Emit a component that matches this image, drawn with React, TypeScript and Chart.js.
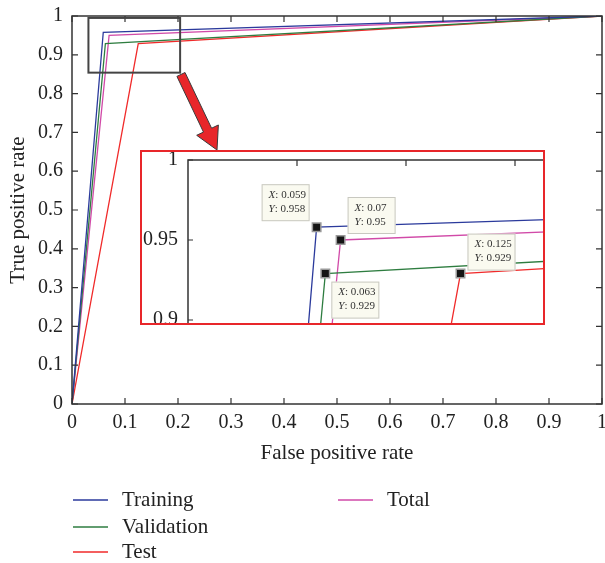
import React, { useEffect, useRef } from "react";
import { Chart, registerables } from "chart.js";

Chart.register(...registerables);

// ---------- data ----------
const seriesNames = ["Training", "Validation", "Test", "Total"];
const seriesColors = ["#2b3a9c", "#2e7d40", "#f02a2a", "#d14aa8"];
const fprTraining = [0, 0.059, 1];
const tprTraining = [0, 0.958, 1];
const fprValidation = [0, 0.063, 1];
const tprValidation = [0, 0.929, 1];
const fprTest = [0, 0.125, 1];
const tprTest = [0, 0.929, 1];
const fprTotal = [0, 0.07, 1];
const tprTotal = [0, 0.95, 1];
const mainTicks = [0, 0.1, 0.2, 0.3, 0.4, 0.5, 0.6, 0.7, 0.8, 0.9, 1];
const insetXTicks = [0.05, 0.1, 0.15];
const insetYTicks = [0.9, 0.95, 1];
const zoomBoxX = [0.031, 0.204];
const zoomBoxY = [0.854, 0.995];

const fprs = [fprTraining, fprValidation, fprTest, fprTotal];
const tprs = [tprTraining, tprValidation, tprTest, tprTotal];

// ---------- styles / layout ----------
const FONT = "'Liberation Serif', 'Times New Roman', serif";
const TEXT = "#222";
const AXIS = "#333";
const legendColX = [73, 338];
const legendRowY = [500, 527, 552];
const insetBox = { left: 140, top: 150, width: 405, height: 175 };
const arrowTip = { x: 217, y: 150 };
const labelOffsets = [
  [-55, -43],
  [6, 8],
  [7, -40],
  [7, -43],
];

const fmt = (v: any) => String(+Number(v).toFixed(3));

function buildDatasets(inset: boolean) {
  return seriesNames.map((name, i) => ({
    label: name,
    data: fprs[i].map((x, k) => ({ x, y: tprs[i][k] })),
    showLine: true,
    borderColor: seriesColors[i],
    backgroundColor: seriesColors[i],
    borderWidth: 1.3,
    pointRadius: inset ? fprs[i].map((_, k) => (k === 1 ? 6 : 0)) : 0,
    pointStyle: "rect",
    pointBackgroundColor: "#151515",
    pointBorderColor: "#9a9a9a",
    pointBorderWidth: 1.5,
    tension: 0,
  }));
}

const mainPlugin = {
  id: "mainDecor",
  afterDatasetsDraw(chart: any) {
    const { ctx, chartArea: a, scales } = chart;
    const xs = scales.x;
    const ys = scales.y;
    ctx.save();
    // frame
    ctx.strokeStyle = AXIS;
    ctx.lineWidth = 1.5;
    ctx.strokeRect(a.left, a.top, a.right - a.left, a.bottom - a.top);
    // ticks inward on all four sides
    ctx.lineWidth = 1.2;
    ctx.beginPath();
    mainTicks.forEach((v) => {
      const px = xs.getPixelForValue(v);
      ctx.moveTo(px, a.bottom);
      ctx.lineTo(px, a.bottom - 6);
      ctx.moveTo(px, a.top);
      ctx.lineTo(px, a.top + 6);
      const py = ys.getPixelForValue(v);
      ctx.moveTo(a.left, py);
      ctx.lineTo(a.left + 6, py);
      ctx.moveTo(a.right, py);
      ctx.lineTo(a.right - 6, py);
    });
    ctx.stroke();
    // zoom rectangle
    const rx0 = xs.getPixelForValue(zoomBoxX[0]);
    const rx1 = xs.getPixelForValue(zoomBoxX[1]);
    const ry0 = ys.getPixelForValue(zoomBoxY[1]);
    const ry1 = ys.getPixelForValue(zoomBoxY[0]);
    ctx.strokeStyle = "#444";
    ctx.lineWidth = 2;
    ctx.strokeRect(rx0, ry0, rx1 - rx0, ry1 - ry0);
    // arrow
    const S = { x: rx1, y: ry1 };
    const T = arrowTip;
    const dx = T.x - S.x;
    const dy = T.y - S.y;
    const len = Math.hypot(dx, dy);
    const u = { x: dx / len, y: dy / len };
    const n = { x: -u.y, y: u.x };
    const w = 4.5;
    const h = 12;
    const hl = 22;
    const B = { x: T.x - u.x * hl, y: T.y - u.y * hl };
    const S0 = { x: S.x + u.x * 2, y: S.y + u.y * 2 };
    ctx.beginPath();
    ctx.moveTo(S0.x + n.x * w, S0.y + n.y * w);
    ctx.lineTo(B.x + n.x * w, B.y + n.y * w);
    ctx.lineTo(B.x + n.x * h, B.y + n.y * h);
    ctx.lineTo(T.x, T.y);
    ctx.lineTo(B.x - n.x * h, B.y - n.y * h);
    ctx.lineTo(B.x - n.x * w, B.y - n.y * w);
    ctx.lineTo(S0.x - n.x * w, S0.y - n.y * w);
    ctx.closePath();
    ctx.fillStyle = "#e8262a";
    ctx.fill();
    ctx.strokeStyle = "#3a3a3a";
    ctx.lineWidth = 1;
    ctx.stroke();
    ctx.restore();
  },
  afterDraw(chart: any) {
    const { ctx } = chart;
    ctx.save();
    ctx.font = `21px ${FONT}`;
    ctx.textBaseline = "middle";
    ctx.textAlign = "left";
    chart.data.datasets.forEach((ds: any, i: number) => {
      const col = Math.floor(i / 3);
      const row = i % 3;
      const x = legendColX[col];
      const y = legendRowY[row];
      ctx.strokeStyle = ds.borderColor;
      ctx.lineWidth = 1.5;
      ctx.beginPath();
      ctx.moveTo(x, y);
      ctx.lineTo(x + 35, y);
      ctx.stroke();
      ctx.fillStyle = TEXT;
      ctx.fillText(ds.label, x + 49, y);
    });
    ctx.restore();
  },
};

const insetPlugin = {
  id: "insetDecor",
  afterDatasetsDraw(chart: any) {
    const { ctx, chartArea: a, scales } = chart;
    ctx.save();
    // frame: top and left axes
    ctx.strokeStyle = AXIS;
    ctx.lineWidth = 1.5;
    ctx.beginPath();
    ctx.moveTo(a.left, a.bottom);
    ctx.lineTo(a.left, a.top);
    ctx.lineTo(a.right, a.top);
    ctx.stroke();
    ctx.lineWidth = 1.2;
    ctx.beginPath();
    insetXTicks.forEach((v) => {
      const px = scales.x.getPixelForValue(v);
      ctx.moveTo(px, a.top);
      ctx.lineTo(px, a.top + 6);
    });
    insetYTicks.forEach((v) => {
      const py = scales.y.getPixelForValue(v);
      ctx.moveTo(a.left, py);
      ctx.lineTo(a.left + 5, py);
    });
    ctx.stroke();
    // value labels
    chart.data.datasets.forEach((ds: any, i: number) => {
      const meta = chart.getDatasetMeta(i);
      const el = meta.data[1];
      const [ox, oy] = labelOffsets[i];
      const bx = el.x + ox;
      const by = el.y + oy;
      const bw = 48;
      const bh = 37;
      ctx.fillStyle = "#fafaf0";
      ctx.fillRect(bx, by, bw, bh);
      ctx.strokeStyle = "#c8c8c0";
      ctx.lineWidth = 1;
      ctx.strokeRect(bx + 0.5, by + 0.5, bw - 1, bh - 1);
      const lines = [
        ["X", ": " + fmt(ds.data[1].x)],
        ["Y", ": " + fmt(ds.data[1].y)],
      ];
      ctx.fillStyle = "#333";
      ctx.textBaseline = "middle";
      ctx.textAlign = "left";
      lines.forEach(([k, rest], r) => {
        const ty = by + 11 + r * 14;
        ctx.font = `italic 11px ${FONT}`;
        ctx.fillText(k, bx + 7, ty);
        const kw = ctx.measureText(k).width;
        ctx.font = `11px ${FONT}`;
        ctx.fillText(rest, bx + 7 + kw, ty);
      });
    });
    ctx.restore();
  },
};

export default function App() {
  const mainRef = useRef<HTMLCanvasElement>(null);
  const insetRef = useRef<HTMLCanvasElement>(null);

  useEffect(() => {
    document.body.style.margin = "0";
    const main = new Chart(mainRef.current as HTMLCanvasElement, {
      type: "scatter",
      data: { datasets: buildDatasets(false) as any },
      options: {
        animation: false,
        responsive: false,
        maintainAspectRatio: false,
        layout: { padding: { top: 16, right: 3, left: 0, bottom: 95 } },
        plugins: { legend: { display: false }, tooltip: { enabled: false } },
        scales: {
          x: {
            type: "linear",
            min: 0,
            max: 1,
            grid: { display: false, drawTicks: false },
            border: { display: false },
            afterBuildTicks: (s: any) => {
              s.ticks = mainTicks.map((v) => ({ value: v }));
            },
            afterFit: (s: any) => {
              s.height = 64;
              s.paddingLeft = 0;
              s.paddingRight = 0;
            },
            ticks: {
              padding: 7,
              color: TEXT,
              font: { family: FONT, size: 20 },
              maxRotation: 0,
              autoSkip: false,
              callback: (v: any) => fmt(v),
            },
            title: {
              display: true,
              text: "False positive rate",
              color: TEXT,
              font: { family: FONT, size: 21 },
              padding: { top: 0, bottom: 2 },
            },
          },
          y: {
            type: "linear",
            min: 0,
            max: 1,
            grid: { display: false, drawTicks: false },
            border: { display: false },
            afterBuildTicks: (s: any) => {
              s.ticks = mainTicks.map((v) => ({ value: v }));
            },
            afterFit: (s: any) => {
              s.width = 72;
              s.paddingTop = 0;
              s.paddingBottom = 0;
            },
            ticks: {
              padding: 9,
              color: TEXT,
              font: { family: FONT, size: 20 },
              autoSkip: false,
              callback: (v: any) => fmt(v),
            },
            title: {
              display: true,
              text: "True positive rate",
              color: TEXT,
              font: { family: FONT, size: 21 },
              padding: { top: 6, bottom: 0 },
            },
          },
        },
      },
      plugins: [mainPlugin],
    } as any);

    const inset = new Chart(insetRef.current as HTMLCanvasElement, {
      type: "scatter",
      data: { datasets: buildDatasets(true) as any },
      options: {
        animation: false,
        responsive: false,
        maintainAspectRatio: false,
        layout: { padding: { top: 8, right: 0, left: 0, bottom: 0 } },
        plugins: { legend: { display: false }, tooltip: { enabled: false } },
        scales: {
          x: {
            type: "linear",
            min: 0,
            max: 0.2,
            grid: { display: false, drawTicks: false },
            border: { display: false },
            ticks: { display: false },
            afterFit: (s: any) => {
              s.height = 0;
              s.paddingLeft = 0;
              s.paddingRight = 0;
            },
          },
          y: {
            type: "linear",
            min: 0.88,
            max: 1,
            grid: { display: false, drawTicks: false },
            border: { display: false },
            afterBuildTicks: (s: any) => {
              s.ticks = insetYTicks.map((v) => ({ value: v }));
            },
            afterFit: (s: any) => {
              s.width = 46;
              s.paddingTop = 0;
              s.paddingBottom = 0;
            },
            ticks: {
              padding: 10,
              color: TEXT,
              font: { family: FONT, size: 20 },
              autoSkip: false,
              callback: (v: any) => fmt(v),
            },
          },
        },
      },
      plugins: [insetPlugin],
    } as any);

    return () => {
      main.destroy();
      inset.destroy();
    };
  }, []);

  return (
    <div style={{ position: "absolute", left: 0, top: 0, width: 605, height: 563, background: "#fff" }}>
      <canvas ref={mainRef} width={605} height={563} style={{ position: "absolute", left: 0, top: 0, width: 605, height: 563 }} />
      <div
        style={{
          position: "absolute",
          left: insetBox.left,
          top: insetBox.top,
          width: insetBox.width,
          height: insetBox.height,
          border: "2px solid #e8262a",
          boxSizing: "border-box",
          overflow: "hidden",
          background: "#fff",
        }}
      >
        <canvas ref={insetRef} width={482} height={200} style={{ position: "absolute", left: 0, top: 0, width: 482, height: 200 }} />
      </div>
    </div>
  );
}
